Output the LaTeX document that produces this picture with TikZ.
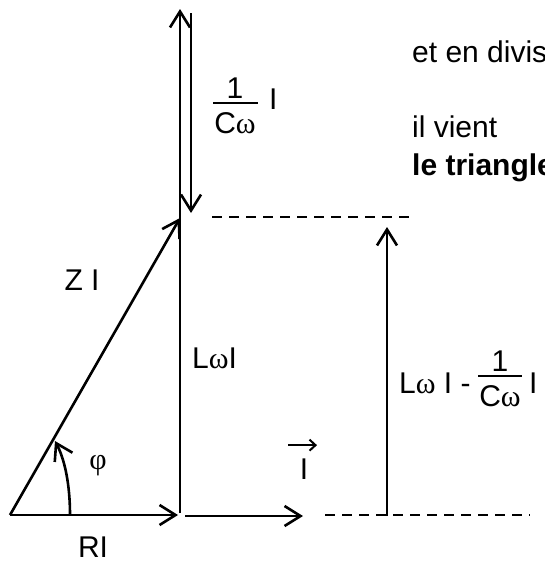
\documentclass[tikz,border=0pt]{standalone}
\usepackage{fontspec}
\setmainfont{Liberation Sans}
\newfontfamily\grk{Liberation Serif}
\usetikzlibrary{arrows.meta}
\begin{document}
\begin{tikzpicture}[x=1pt,y=-1pt,
  vecline/.style={line width=2.6pt,-{Straight Barb[length=16pt,width=20pt,line width=2.6pt]}},
  dashline/.style={line width=2.6pt,dash pattern=on 10pt off 7pt},
  barline/.style={line width=1.8pt},
  smallvec/.style={line width=2pt,-{Straight Barb[length=6pt,width=11pt,line width=2pt]}},
  lbl/.style={font=\fontsize{30}{36}\selectfont,inner sep=0pt},
]
\useasboundingbox (0,0) rectangle (544,562);
\clip (0,0) rectangle (544,562);

% points
\coordinate (O) at (10,515);
\coordinate (A) at (180,515);
\coordinate (Abot) at (180,513);
\coordinate (T) at (180,9);
\coordinate (Z) at (180,218);
\coordinate (C1) at (191,13);
\coordinate (C2) at (191,213);
\coordinate (B1) at (185,516);
\coordinate (B2) at (303,516);
\coordinate (D1) at (212,217);
\coordinate (D2) at (413,217);
\coordinate (E1) at (325,515);
\coordinate (E2) at (530,515);
\coordinate (V1) at (387,516);
\coordinate (V2) at (387,227);
\coordinate (P1) at (70,515);
\coordinate (P2) at (55,441);

% vectors
\draw[vecline] (O) -- ([xshift=-2pt]A);
\draw[vecline] (Abot) -- (T);
\draw[vecline] (C1) -- (C2);
\draw[vecline] (O) -- (Z);
\draw[vecline] (B1) -- (B2);
\draw[vecline] (V1) -- (V2);
\draw[vecline] (P1) .. controls (70,485) and (65,460) .. (P2);

% dashed lines
\draw[dashline] (D1) -- (D2);
\draw[dashline] (E1) -- (E2);

% labels
\node[lbl,anchor=base] (n1) at (235,98) {1};
\node[lbl,anchor=base] (d1) at (235,133) {C{\grk ω}};
\coordinate (f1a) at (213,103);
\coordinate (f1b) at (258,103);
\draw[barline] (f1a) -- (f1b);
\node[lbl,anchor=base west] (i1) at (269,109) {I};

\node[lbl,anchor=base] (zi) at (82,290) {Z I};
\node[lbl,anchor=base west] (lwi) at (192,368) {L{\grk ω}I};
\node[lbl] (phi) at (98,466) {\grk φ};
\node[lbl,anchor=base] (ri) at (93,557) {RI};

\node[lbl,anchor=base] (iv) at (304,479) {I};
\coordinate (iva) at ([shift={(-16,-13)}]iv.north);
\coordinate (ivb) at ([shift={(13,-13)}]iv.north);
\draw[smallvec] (iva) -- (ivb);

\node[lbl,anchor=base west] (lw) at (399,393) {L{\grk ω} I -};
\node[lbl,anchor=base] (n2) at (500,371) {1};
\node[lbl,anchor=base] (d2) at (500,406) {C{\grk ω}};
\coordinate (f2a) at (478,376);
\coordinate (f2b) at (522,376);
\draw[barline] (f2a) -- (f2b);
\node[lbl,anchor=base west] (i2) at (529,393) {I};

\node[lbl,anchor=base west] (t1) at (412,62) {et en divisant};
\node[lbl,anchor=base west] (t2) at (412,137) {il vient};
\node[lbl,anchor=base west,font=\fontsize{30}{36}\selectfont\bfseries] (t3) at (412,175) {le triangle};
\end{tikzpicture}
\end{document}
